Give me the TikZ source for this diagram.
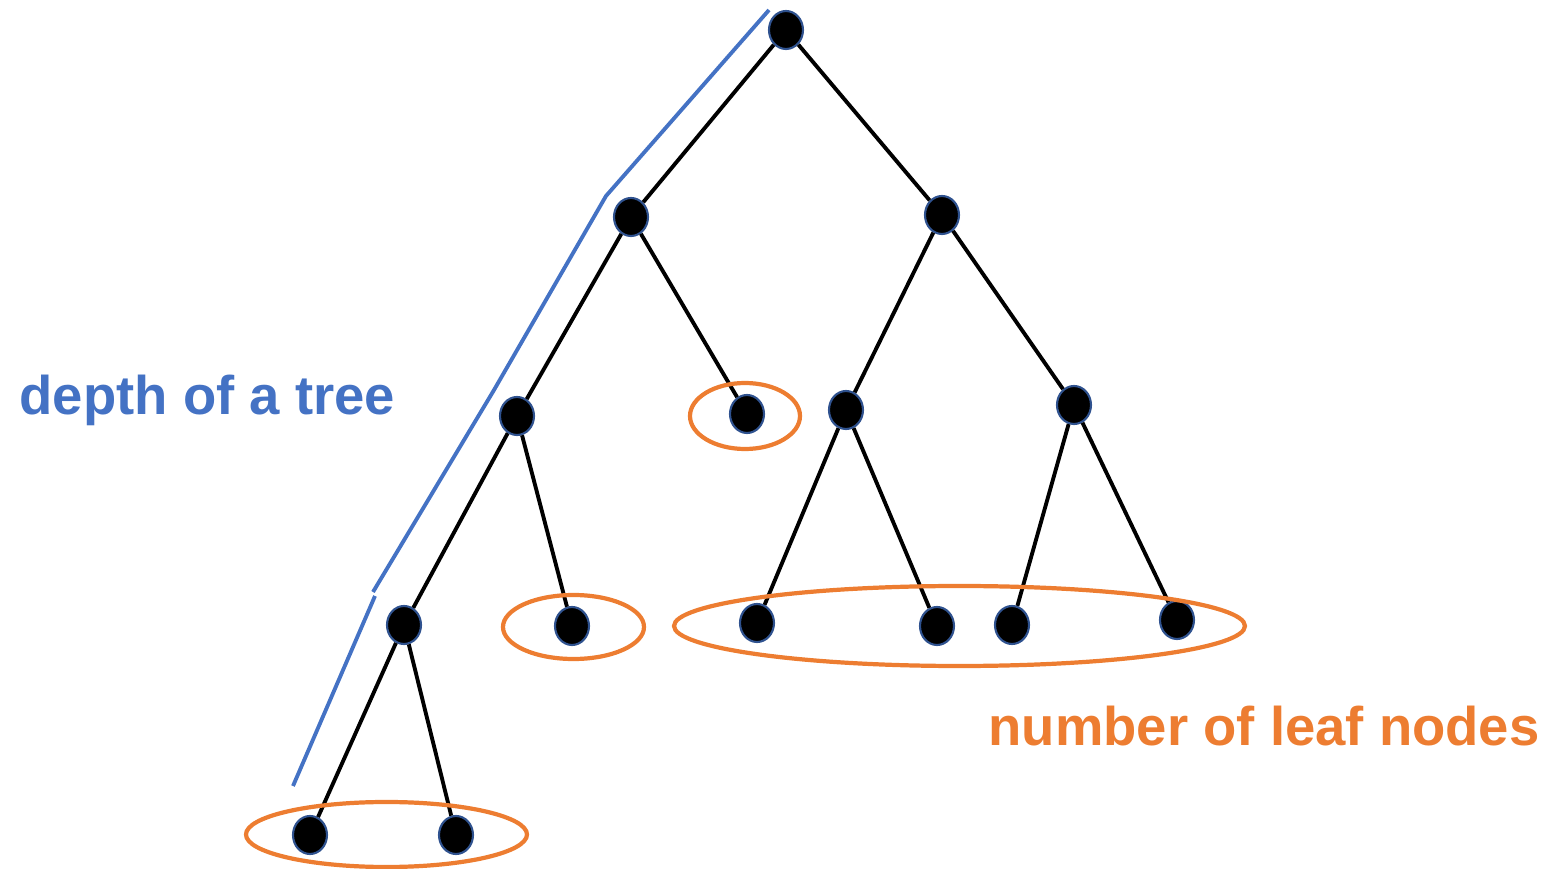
\documentclass[tikz,border=0pt]{standalone}
\usepackage{fontspec}
\newfontfamily\labelfont{Liberation Sans}
\usetikzlibrary{shapes.geometric}
\definecolor{depthblue}{HTML}{4472C4}
\definecolor{leaforange}{HTML}{ED7D31}
\definecolor{rimblue}{HTML}{2F528F}

\begin{document}
\begin{tikzpicture}[every node/.style={font=\labelfont\bfseries\fontsize{15.5}{18}\selectfont}, v/.style={draw=rimblue, line width=0.6pt, fill=black, ellipse, minimum width=3.4mm, minimum height=3.8mm, inner sep=0pt}, e/.style={black, line width=1.1pt}, ring/.style={leaforange, line width=1.2pt}]
	\useasboundingbox (0,0) rectangle (15.49,-8.69);
	% depth marker
	\coordinate (d0) at (7.69,-0.10);
	\coordinate (d1) at (6.06,-1.96);
	\coordinate (d2) at (4.94,-3.90);
	\coordinate (d3) at (3.73,-5.92);
	\coordinate (d4) at (3.75,-5.96);
	\coordinate (d5) at (2.93,-7.86);
	\draw[depthblue, line width=1.1pt] (d0) -- (d1) -- (d2) -- (d3);
	\draw[depthblue, line width=1.1pt] (d4) -- (d5);
	% tree
	\node[v] (r) at (7.86,-0.30) {};
	\node[v] (a) at (6.31,-2.17) {};
	\node[v] (b) at (9.42,-2.15) {};
	\node[v] (aa) at (5.17,-4.16) {};
	\node[v] (ab) at (7.47,-4.14) {};
	\node[v] (ba) at (8.46,-4.10) {};
	\node[v] (bb) at (10.74,-4.05) {};
	\node[v] (aaa) at (4.04,-6.25) {};
	\node[v] (aab) at (5.72,-6.26) {};
	\node[v] (baa) at (7.57,-6.23) {};
	\node[v] (bab) at (9.37,-6.26) {};
	\node[v] (bba) at (10.12,-6.25) {};
	\node[v] (bbb) at (11.77,-6.20) {};
	\node[v] (aaaa) at (3.10,-8.35) {};
	\node[v] (aaab) at (4.56,-8.35) {};
	\draw[e] (r) -- (a);
	\draw[e] (r) -- (b);
	\draw[e] (a) -- (aa);
	\draw[e] (a) -- (ab);
	\draw[e] (b) -- (ba);
	\draw[e] (b) -- (bb);
	\draw[e] (aa) -- (aaa);
	\draw[e] (aa) -- (aab);
	\draw[e] (ba) -- (baa);
	\draw[e] (ba) -- (bab);
	\draw[e] (bb) -- (bba);
	\draw[e] (bb) -- (bbb);
	\draw[e] (aaa) -- (aaaa);
	\draw[e] (aaa) -- (aaab);
	% leaves
	\draw[ring] (7.45,-4.16) ellipse [x radius=0.55, y radius=0.33];
	\draw[ring] (5.735,-6.27) ellipse [x radius=0.705, y radius=0.32];
	\draw[ring] (9.595,-6.26) ellipse [x radius=2.855, y radius=0.40];
	\draw[ring] (3.865,-8.345) ellipse [x radius=1.405, y radius=0.325];
	\node[depthblue, anchor=base west, inner sep=0pt] (depth) at (0.19,-4.15) {depth of a tree};
	\node[leaforange, anchor=base west, inner sep=0pt] (leaves) at (9.88,-7.45) {number of leaf nodes};
\end{tikzpicture}
\end{document}
